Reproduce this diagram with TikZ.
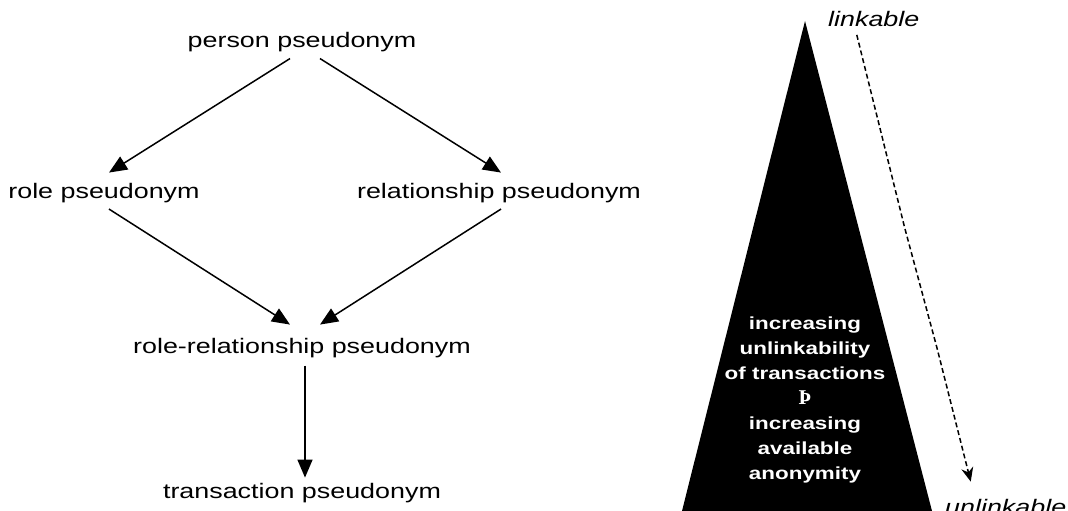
\documentclass[tikz,border=0pt]{standalone}
\usepackage{fontspec}
\usetikzlibrary{arrows.meta,calc}
\newfontfamily\lblfont[FakeStretch=1.28]{Liberation Sans}
\newfontfamily\symfont{Liberation Serif}

\begin{document}
\begin{tikzpicture}[x=1pt,y=-1pt,
		lbl/.style={font=\lblfont\fontsize{21}{25}\selectfont,inner sep=0pt,anchor=base},
		arr/.style={line width=1.5pt,-{Triangle[length=18pt,width=15pt]}},
		dasharr/.style={line width=1.5pt,dash pattern=on 5pt off 3pt,-{Stealth[length=14pt,width=12pt]}}]
		\useasboundingbox (0,0) rectangle (1068,511);
		\clip (0,0) rectangle (1068,511);
		% pseudonym hierarchy
		\node[lbl] (pp) at (302,48) {person pseudonym};
		\node[lbl] (rp) at (104,198) {role pseudonym};
		\node[lbl] (rsp) at (499,198) {relationship pseudonym};
		\node[lbl] (rrp) at (302,353) {role-relationship pseudonym};
		\node[lbl] (tp) at (302,498) {transaction pseudonym};
		\draw[arr] ([xshift=-12pt,yshift=-6pt]pp.south) -- ([xshift=5pt,yshift=10pt]rp.north);
		\draw[arr] ([xshift=18pt,yshift=-6pt]pp.south) -- ([xshift=2pt,yshift=10pt]rsp.north);
		\draw[arr] ([xshift=5pt,yshift=-6.5pt]rp.south) -- ([xshift=-12pt,yshift=13pt]rrp.north);
		\draw[arr] ([xshift=2pt,yshift=-6.5pt]rsp.south) -- ([xshift=18pt,yshift=13pt]rrp.north);
		\draw[arr] ([xshift=3pt,yshift=-8pt]rrp.south) -- ([xshift=3pt,yshift=5pt]tp.north);
		% anonymity triangle
		\fill (805,21) -- (932,511) -- (682,511) -- cycle;
		\node[font=\lblfont\bfseries\fontsize{17.5}{25}\selectfont,text=white,align=center,inner sep=0pt]
			(tri) at (805,400) {increasing\\unlinkability\\of transactions\\{\symfont\bfseries\fontsize{21}{25}\selectfont Þ}\\increasing\\available\\anonymity};
		\node[lbl,anchor=base west,font=\lblfont\itshape\fontsize{21}{25}\selectfont] (lk) at (828,27) {linkable};
		\node[lbl,anchor=base west,font=\lblfont\itshape\fontsize{21}{25}\selectfont] (ulk) at (945,514) {unlinkable};
		\draw[dasharr] ([xshift=-17pt,yshift=-7.5pt]lk.south) -- (905,229) -- (937,348)
			-- ([xshift=-35pt,yshift=17pt]ulk.north);
\end{tikzpicture}
\end{document}
